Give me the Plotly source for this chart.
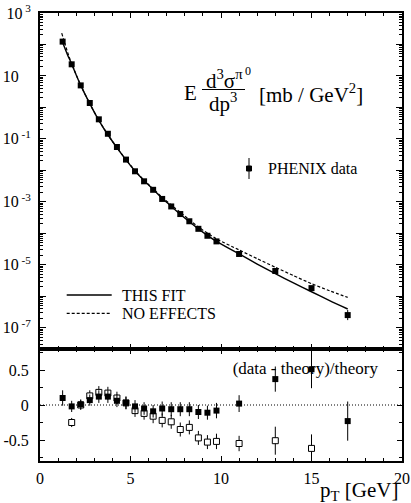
import plotly.graph_objects as go

# ---------------- data ----------------
pt = [1.25, 1.75, 2.25, 2.75, 3.25, 3.75, 4.25, 4.75, 5.25, 5.75, 6.25, 6.75,
      7.25, 7.75, 8.25, 8.75, 9.25, 9.75, 11.0, 13.0, 15.0, 17.0]
phenix = [123, 23.4, 5.0, 1.38, 0.417, 0.145, 0.055, 0.0219, 9.3e-3, 4.47e-3,
          2.4e-3, 1.23e-3, 7.1e-4, 4.07e-4, 2.4e-4, 1.38e-4, 8.3e-5, 5.5e-5,
          2.19e-5, 6.3e-6, 1.8e-6, 2.5e-7]
# error in decades (mostly hidden by the markers)
phenix_err_dec = [0.01] * 18 + [0.02, 0.04, 0.06, 0.16]

fit_pt = [1.25, 1.5, 1.75, 2.0, 2.25, 2.75, 3.25, 3.75, 4.25, 4.75, 5.25, 5.75,
          6.25, 6.75, 7.25, 7.75, 8.75, 9.75, 11, 12, 13, 14, 15, 16, 17]
fit = [115, 50.1, 24.0, 10.7, 5.01, 1.32, 0.389, 0.135, 0.0525, 0.0214, 9.5e-3,
       4.7e-3, 2.5e-3, 1.29e-3, 7.2e-4, 4.0e-4, 1.38e-4, 5.5e-5, 2.19e-5,
       1.05e-5, 5.2e-6, 2.63e-6, 1.38e-6, 7.2e-7, 3.9e-7]

ne_pt = [1.2, 1.4, 1.6, 1.75, 2.25, 2.75, 3.25, 3.75, 4.25, 4.75, 5.25, 5.75,
         6.25, 6.75, 7.25, 7.75, 8.75, 9.75, 11, 12, 13, 14, 15, 16, 17]
no_effects = [229, 95.5, 41.7, 24.5, 5.01, 1.32, 0.389, 0.135, 0.0525, 0.0219,
              9.8e-3, 4.8e-3, 2.6e-3, 1.38e-3, 7.9e-4, 4.6e-4, 1.58e-4, 6.6e-5,
              2.95e-5, 1.55e-5, 8.3e-6, 4.5e-6, 2.5e-6, 1.48e-6, 9.1e-7]

# (data - theory)/theory : filled = THIS FIT, open = NO EFFECTS
ratio_fit = [0.10, -0.02, 0.01, 0.07, 0.12, 0.12, 0.06, 0.03, -0.02, -0.05,
             -0.09, -0.05, -0.06, -0.06, -0.06, -0.10, -0.11, -0.08, 0.02,
             0.37, 0.51, -0.23]
ratio_fit_err = [0.11, 0.08, 0.07, 0.08, 0.09, 0.09, 0.09, 0.09, 0.09, 0.09,
                 0.09, 0.10, 0.10, 0.10, 0.10, 0.10, 0.10, 0.11, 0.12, 0.18,
                 0.27, 0.28]
open_pt = [1.75, 2.25, 2.75, 3.25, 3.75, 4.25, 4.75, 5.25, 5.75, 6.25, 6.75,
           7.25, 7.75, 8.25, 8.75, 9.25, 9.75, 11.0, 13.0, 15.0]
ratio_ne = [-0.25, 0.0, 0.13, 0.18, 0.17, 0.10, 0.03, -0.08, -0.12, -0.16,
            -0.22, -0.24, -0.35, -0.32, -0.47, -0.53, -0.52, -0.55, -0.51, -0.62]
ratio_ne_err = [0.065, 0.07, 0.08, 0.09, 0.09, 0.09, 0.09, 0.09, 0.09, 0.10,
                0.10, 0.10, 0.10, 0.10, 0.10, 0.10, 0.11, 0.11, 0.20, 0.20]

y_dec = [-7, -6, -5, -4, -3, -2, -1, 0, 1, 2, 3]
y_dec_text = ["10<sup>\u00a0-7</sup>", "", "10<sup>\u00a0-5</sup>", "",
              "10<sup>\u00a0-3</sup>", "", "10<sup>\u00a0-1</sup>", "",
              "10<sup><span style='color:rgba(0,0,0,0)'>\u00a0-1</span></sup>",
              "", "10<sup>\u00a03</sup>"]
r_ticks = [-0.5, 0, 0.5]
r_ticktext = ["-0.5", "0", "0.5"]

# ---------------- geometry helpers ----------------
W, H = 411, 503
L, R, T, B = 40, 9, 13, 42
PW, PH = W - L - R, H - T - B
def fx(p):
    return (p - L) / PW
def fy(p):
    return (H - B - p) / PH

FONT = "Liberation Serif"
up = [v * (10 ** e - 1) for v, e in zip(phenix, phenix_err_dec)]
dn = [v * (1 - 10 ** -e) for v, e in zip(phenix, phenix_err_dec)]

fig = go.Figure()
fig.add_trace(go.Scatter(x=fit_pt, y=fit, mode="lines", xaxis="x", yaxis="y",
                         line=dict(color="black", width=1.4, shape="spline", smoothing=0.6)))
fig.add_trace(go.Scatter(x=ne_pt, y=no_effects, mode="lines", xaxis="x", yaxis="y",
                         line=dict(color="black", width=1.2, dash="3px,2px", shape="spline", smoothing=0.6)))
fig.add_trace(go.Scatter(x=pt, y=phenix, mode="markers", xaxis="x", yaxis="y",
                         marker=dict(symbol="square", size=6, color="black"),
                         error_y=dict(type="data", array=up, arrayminus=dn, width=0,
                                      thickness=1, color="black")))

# lower panel
fig.add_trace(go.Scatter(x=[14.66], y=[0.5], mode="text", xaxis="x2", yaxis="y2",
                         text=["(data - theory)/theory"],
                         textfont=dict(family=FONT, size=17, color="black")))
fig.add_trace(go.Scatter(x=open_pt, y=ratio_ne, mode="markers", xaxis="x2", yaxis="y2",
                         marker=dict(symbol="square", size=6, color="white",
                                     line=dict(color="black", width=1)),
                         error_y=dict(type="data", array=ratio_ne_err, width=0,
                                      thickness=1, color="black")))
fig.add_trace(go.Scatter(x=pt, y=ratio_fit, mode="markers", xaxis="x2", yaxis="y2",
                         marker=dict(symbol="square", size=6, color="black"),
                         error_y=dict(type="data", array=ratio_fit_err, width=0,
                                      thickness=1, color="black")))

axis_common = dict(showline=True, linewidth=2, linecolor="black", mirror="allticks",
                   ticks="inside", tickcolor="black", showgrid=False, zeroline=False,
                   automargin=False,
                   tickfont=dict(family=FONT, size=16, color="black"))
minor_x = dict(dtick=1, ticks="inside", ticklen=3, tickcolor="black", showgrid=False)

fig.update_layout(
    width=W, height=H, margin=dict(l=L, r=R, t=T, b=B),
    paper_bgcolor="white", plot_bgcolor="white", showlegend=False,
    font=dict(family=FONT, color="black"),
    xaxis=dict(domain=[0, 1], anchor="y", range=[0, 20], dtick=5, tick0=0, ticklen=5,
               showticklabels=False, minor=minor_x, **axis_common),
    yaxis=dict(domain=[0.25, 1], anchor="x", type="log", range=[-7.68, 3],
               tickvals=[10 ** e for e in y_dec], ticktext=y_dec_text, ticklen=6,
               ticklabelstandoff=4,
               minor=dict(tickvals=[k * 10 ** e for e in range(-8, 3) for k in range(2, 10)],
                          ticks="inside", ticklen=3, tickcolor="black", showgrid=False),
               **axis_common),
    xaxis2=dict(domain=[0, 1], anchor="y2", range=[0, 20], dtick=5, tick0=0, ticklen=5,
                minor=minor_x, ticklabelstandoff=2, **axis_common),
    yaxis2=dict(domain=[0, 0.25], anchor="x2", range=[-0.8, 0.8],
                tickvals=r_ticks, ticktext=r_ticktext, ticklen=5, ticklabelstandoff=6,
                minor=dict(dtick=0.25, tick0=0, ticks="inside", ticklen=3,
                           tickcolor="black", showgrid=False),
                **axis_common),
)

shapes = [
    dict(type="line", xref="x2", yref="y2", x0=0, x1=20, y0=0, y1=0, layer="below",
         line=dict(color="black", width=1, dash="1px,2px")),
    # fraction bar
    dict(type="line", xref="paper", yref="paper", x0=fx(202), x1=fx(245), y0=fy(89.5), y1=fy(89.5),
         line=dict(color="black", width=1)),
    # legend lines
    dict(type="line", xref="paper", yref="paper", x0=fx(66.7), x1=fx(111.7), y0=fy(295), y1=fy(295),
         line=dict(color="black", width=1.4)),
    dict(type="line", xref="paper", yref="paper", x0=fx(66.7), x1=fx(111.7), y0=fy(313.3), y1=fy(313.3),
         line=dict(color="black", width=1.2, dash="3px,2px")),
    # PHENIX legend symbol
    dict(type="line", xref="paper", yref="paper", x0=fx(249), x1=fx(249), y0=fy(158), y1=fy(179),
         line=dict(color="black", width=1)),
    dict(type="rect", xref="paper", yref="paper", x0=fx(246.5), x1=fx(251.5), y0=fy(171), y1=fy(166),
         fillcolor="black", line=dict(color="black", width=1)),
]
fig.update_layout(shapes=shapes)

def ann(text, x, y, size, xanchor="center", yanchor="middle"):
    return dict(text=text, x=fx(x), y=fy(y), xref="paper", yref="paper", showarrow=False,
                xanchor=xanchor, yanchor=yanchor,
                font=dict(family=FONT, size=size, color="black"))

fig.update_layout(annotations=[
    ann("E", 190, 93, 21),
    ann("d<sup>3</sup>σ<sup>π</sup>", 224, 79.5, 21),
    ann("0", 247.5, 70.5, 12),
    ann("dp<sup>3</sup>", 223, 102, 21),
    ann("[mb / GeV<sup>2</sup>]", 257, 93, 21, xanchor="left"),
    ann("PHENIX data", 266, 168, 16, xanchor="left"),
    ann("THIS FIT", 120, 295, 16, xanchor="left"),
    ann("NO EFFECTS", 120, 313.3, 16, xanchor="left"),
    ann("p<sub>T</sub> [GeV]", 400, 491, 21, xanchor="right"),
])

fig.write_html("out.html", config={"displayModeBar": False},
               post_script="document.body.style.margin='0';")
